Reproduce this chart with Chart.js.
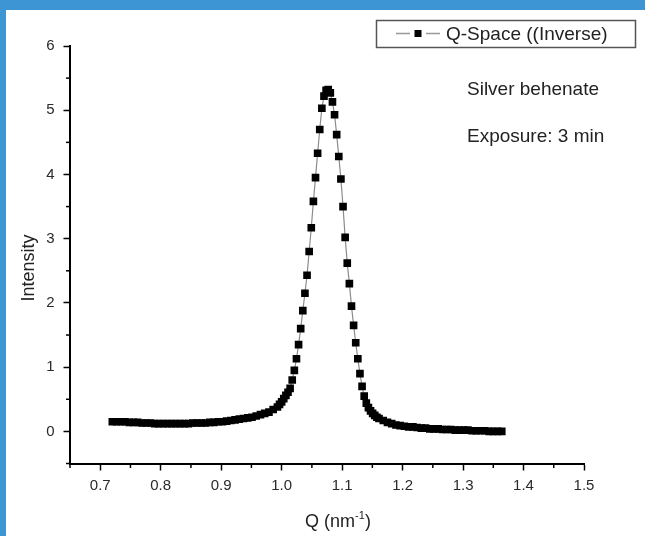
<!DOCTYPE html>
<html>
<head>
<meta charset="utf-8">
<script src="https://cdn.jsdelivr.net/npm/chart.js@4.4.0/dist/chart.umd.min.js"></script>
<style>
  html, body { margin: 0; padding: 0; background: #fff; }
  #moldura {
    position: absolute; left: 0; top: 0; width: 645px; height: 536px;
    box-sizing: border-box; background: #fff;
    border-top: 10px solid #3d96d3; border-left: 6px solid #3d96d3;
  }
  #grafico { display: block; }
</style>
</head>
<body>
<div id="moldura"><canvas id="grafico" width="639" height="526"></canvas></div>
<script>
// Q (nm^-1)
const qValores = [
  0.720, 0.727, 0.734, 0.741, 0.748, 0.755, 0.762, 0.769, 0.776, 0.783,
  0.790, 0.797, 0.804, 0.811, 0.818, 0.825, 0.832, 0.839, 0.846, 0.853,
  0.860, 0.867, 0.874, 0.881, 0.888, 0.895, 0.902, 0.909, 0.916, 0.923,
  0.930, 0.937, 0.944, 0.951, 0.958, 0.965, 0.972, 0.979, 0.986, 0.993,
  0.9965, 1.0000, 1.0035, 1.0070, 1.0105, 1.0140, 1.0175, 1.0210, 1.0245, 1.0280,
  1.0315, 1.0350, 1.0385, 1.0420, 1.0455, 1.0490, 1.0525, 1.0560, 1.0595, 1.0630,
  1.0665, 1.0700, 1.0735, 1.0770, 1.0805, 1.0840, 1.0875, 1.0910, 1.0945, 1.0980,
  1.1015, 1.1050, 1.1085, 1.1120, 1.1155, 1.1190, 1.1225, 1.1260, 1.1295, 1.1330,
  1.1365, 1.1400, 1.1435, 1.1470, 1.1505, 1.1540, 1.1575, 1.1610,
  1.168, 1.175, 1.182, 1.189, 1.196, 1.203, 1.210, 1.217, 1.224, 1.231,
  1.238, 1.245, 1.252, 1.259, 1.266, 1.273, 1.280, 1.287, 1.294, 1.301,
  1.308, 1.315, 1.322, 1.329, 1.336, 1.343, 1.350, 1.357, 1.364
];

const intensidade = [
  0.15, 0.15, 0.15, 0.15, 0.14, 0.14, 0.14, 0.13, 0.13, 0.13,
  0.12, 0.12, 0.12, 0.12, 0.12, 0.12, 0.12, 0.12, 0.12, 0.13,
  0.13, 0.13, 0.13, 0.14, 0.14, 0.15, 0.15, 0.16, 0.17, 0.18,
  0.19, 0.20, 0.21, 0.22, 0.24, 0.26, 0.28, 0.30, 0.34, 0.38,
  0.42, 0.46, 0.51, 0.56, 0.61, 0.67, 0.80, 0.95, 1.13, 1.35,
  1.60, 1.88, 2.15, 2.43, 2.80, 3.17, 3.58, 3.95, 4.33, 4.70,
  5.03, 5.22, 5.31, 5.32, 5.27, 5.13, 4.93, 4.62, 4.28, 3.93,
  3.50, 3.02, 2.62, 2.30, 1.95, 1.65, 1.38, 1.13, 0.90, 0.70,
  0.55, 0.44, 0.37, 0.32, 0.28, 0.25, 0.22, 0.20,
  0.17, 0.14, 0.12, 0.10, 0.09, 0.08, 0.07, 0.07, 0.06, 0.05,
  0.05, 0.04, 0.04, 0.04, 0.03, 0.03, 0.03, 0.02, 0.02, 0.02,
  0.02, 0.01, 0.01, 0.01, 0.01, 0.00, 0.00, 0.00, 0.00
];

const xTicksMaiores = [0.7, 0.8, 0.9, 1.0, 1.1, 1.2, 1.3, 1.4, 1.5];
const xTicksMenores = [0.65, 0.75, 0.85, 0.95, 1.05, 1.15, 1.25, 1.35, 1.45];
const yTicksMaiores = [0, 1, 2, 3, 4, 5, 6];
const yTicksMenores = [-0.5, 0.5, 1.5, 2.5, 3.5, 4.5, 5.5];

const rotuloSerie = "Q-Space ((Inverse)";
const anotacoes = ["Silver behenate", "Exposure: 3 min"];
const tituloY = "Intensity";
const tituloX = ["Q (nm", "-1", ")"];

const FONTE = "'Liberation Sans', Arial, sans-serif";

// ticks menores, titulos, legenda e anotacoes
const extras = {
  id: "extras",
  afterDraw(chart) {
    const { ctx, chartArea, scales: { x, y } } = chart;
    ctx.save();
    ctx.strokeStyle = "#000";
    ctx.lineWidth = 1.5;
    xTicksMenores.forEach(v => {
      const px = x.getPixelForValue(v);
      ctx.beginPath();
      ctx.moveTo(px, chartArea.bottom);
      ctx.lineTo(px, chartArea.bottom + 4.5);
      ctx.stroke();
    });
    yTicksMenores.forEach(v => {
      const py = y.getPixelForValue(v);
      ctx.beginPath();
      ctx.moveTo(chartArea.left, py);
      ctx.lineTo(chartArea.left - 4, py);
      ctx.stroke();
    });

    ctx.fillStyle = "#222";

    // titulo y
    ctx.save();
    ctx.translate(28, 258);
    ctx.rotate(-Math.PI / 2);
    ctx.font = "18px " + FONTE;
    ctx.textAlign = "center";
    ctx.textBaseline = "alphabetic";
    ctx.fillText(tituloY, 0, 0);
    ctx.restore();

    // titulo x com expoente
    ctx.font = "18px " + FONTE;
    const w1 = ctx.measureText(tituloX[0]).width;
    ctx.font = "11px " + FONTE;
    const w2 = ctx.measureText(tituloX[1]).width;
    ctx.font = "18px " + FONTE;
    const w3 = ctx.measureText(tituloX[2]).width;
    let xi = 332 - (w1 + w2 + w3) / 2;
    const base = 517;
    ctx.textAlign = "left";
    ctx.textBaseline = "alphabetic";
    ctx.fillText(tituloX[0], xi, base);
    ctx.font = "11px " + FONTE;
    ctx.fillText(tituloX[1], xi + w1, base - 8);
    ctx.font = "18px " + FONTE;
    ctx.fillText(tituloX[2], xi + w1 + w2, base);

    // anotacoes
    ctx.font = "19px " + FONTE;
    ctx.fillText(anotacoes[0], 461, 85);
    ctx.fillText(anotacoes[1], 461, 132);

    // legenda
    ctx.strokeStyle = "#555";
    ctx.lineWidth = 1.5;
    ctx.strokeRect(370.5, 10.5, 259, 27);
    ctx.strokeStyle = "#999";
    ctx.lineWidth = 1.5;
    ctx.beginPath();
    ctx.moveTo(390, 23.5);
    ctx.lineTo(404, 23.5);
    ctx.moveTo(420, 23.5);
    ctx.lineTo(434, 23.5);
    ctx.stroke();
    ctx.fillStyle = "#000";
    ctx.fillRect(408.5, 20, 7, 7);
    ctx.fillStyle = "#222";
    ctx.font = "19px " + FONTE;
    ctx.fillText(chart.data.datasets[0].label, 440, 30);
    ctx.restore();
  }
};

function desenharGrafico() {
  const ctx = document.getElementById("grafico").getContext("2d");
  new Chart(ctx, {
    type: "scatter",
    data: {
      datasets: [{
        label: rotuloSerie,
        data: qValores.map((q, i) => ({ x: q, y: intensidade[i] })),
        showLine: true,
        borderColor: "#8c8c8c",
        borderWidth: 1.2,
        pointStyle: "rect",
        pointRadius: 5.4,
        pointHoverRadius: 5.4,
        pointBackgroundColor: "#000",
        pointBorderWidth: 0
      }]
    },
    options: {
      responsive: false,
      animation: false,
      layout: { padding: { top: 36, right: 61, left: 0, bottom: 0 } },
      plugins: { legend: { display: false }, tooltip: { enabled: false } },
      scales: {
        x: {
          type: "linear",
          min: 0.65,
          max: 1.5,
          afterBuildTicks: s => { s.ticks = xTicksMaiores.map(v => ({ value: v })); },
          afterFit: s => { s.height = 72.5; },
          grid: { display: true, drawOnChartArea: false, drawTicks: true, tickLength: 7, tickWidth: 1.5, tickColor: "#000" },
          border: { display: true, color: "#000", width: 2 },
          ticks: {
            color: "#2a2a2a",
            font: { size: 15, family: FONTE },
            padding: 6,
            maxRotation: 0,
            autoSkip: false,
            callback: v => Number(v).toFixed(1)
          }
        },
        y: {
          type: "linear",
          min: -0.5,
          max: 6,
          afterBuildTicks: s => { s.ticks = yTicksMaiores.map(v => ({ value: v })); },
          afterFit: s => { s.width = 64; },
          grid: { display: true, drawOnChartArea: false, drawTicks: true, tickLength: 6.5, tickWidth: 1.5, tickColor: "#000" },
          border: { display: true, color: "#000", width: 2 },
          ticks: {
            color: "#2a2a2a",
            font: { size: 15, family: FONTE },
            padding: 9,
            autoSkip: false,
            callback: v => String(v)
          }
        }
      }
    },
    plugins: [extras]
  });
}

desenharGrafico();
</script>
</body>
</html>
